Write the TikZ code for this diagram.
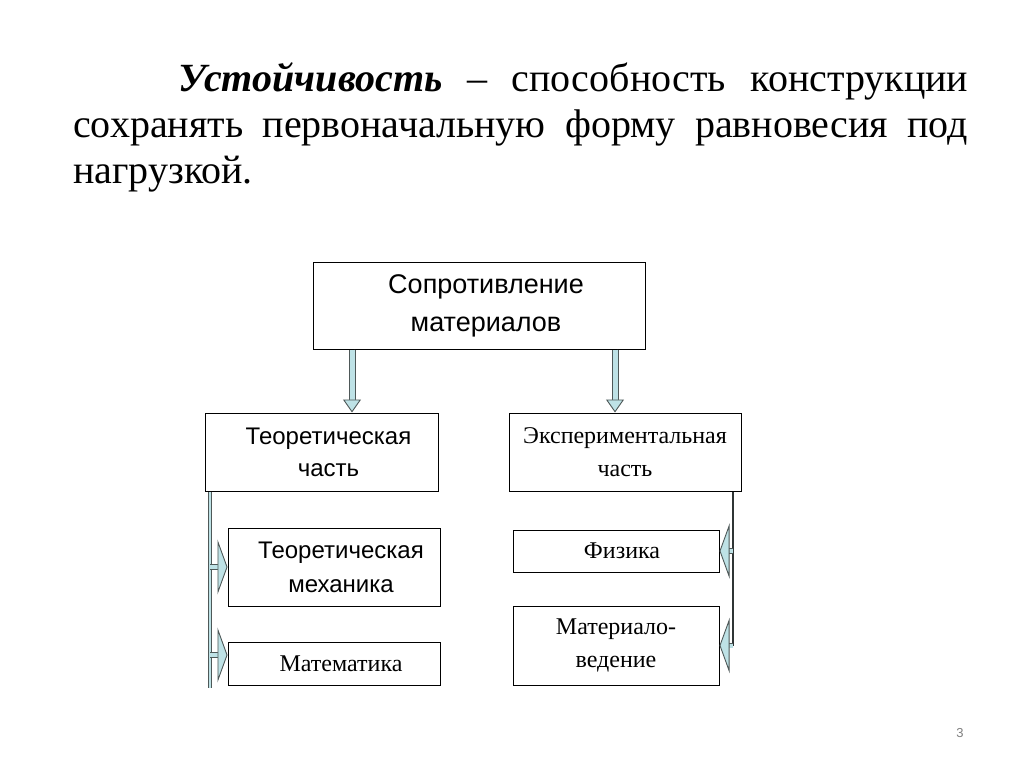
\documentclass[tikz,border=0pt]{standalone}
\usepackage{fontspec}
\setmainfont{Liberation Serif}
\newfontfamily\boxsans{Liberation Sans}
\usetikzlibrary{arrows.meta, positioning}
\definecolor{arrowfill}{RGB}{190,226,230}
\definecolor{arrowline}{RGB}{78,88,88}

\begin{document}
\begin{tikzpicture}[
    x=1pt, y=-1pt,
    sbox/.style={rectangle, draw, line width=1pt, align=center, font=\boxsans\fontsize{24}{32}\selectfont, inner sep=0pt},
    tbox/.style={rectangle, draw, line width=1pt, align=center, font=\fontsize{24}{33}\selectfont, inner sep=0pt},
    downarr/.style={draw=arrowline, double=arrowfill, double distance=5pt, line width=1pt, -{Triangle[length=13pt, width=18pt, fill=arrowfill, line width=0.9pt]}},
    sidebar/.style={draw=arrowline, double=arrowfill, double distance=2.5pt, line width=1pt},
    sidearr/.style={draw=arrowline, double=arrowfill, double distance=4pt, line width=0.9pt, -{Triangle[length=10pt, width=55pt, fill=arrowfill, line width=0.9pt]}},
]
    \useasboundingbox[fill=white] (0,0) rectangle (1024,767);

    % definition text
    \node[anchor=north west, inner sep=0pt, text width=895pt, align=justify, font=\fontsize{40}{46}\selectfont] (title) at (73,62)
        {\hspace*{105pt}\textbf{\textit{Устойчивость}} – способность конструкции\linebreak сохранять первоначальную форму равновесия под\linebreak нагрузкой.};

    % boxes
    \node[sbox, minimum width=332pt, minimum height=87pt, font=\boxsans\fontsize{27}{38}\selectfont] (sopr) at (479,305.5) {\hspace*{14pt}Сопротивление\\\hspace*{14pt}материалов};
    \node[sbox, minimum width=233pt, minimum height=78pt] (theor) at (321.5,452) {\hspace*{14pt}Теоретическая\\\hspace*{14pt}часть};
    \node[tbox, minimum width=232pt, minimum height=78pt] (exper) at (625,452) {Экспериментальная\\часть};
    \node[sbox, minimum width=212pt, minimum height=78pt, font=\boxsans\fontsize{24}{34}\selectfont] (mech) at (334,567) {\hspace*{14pt}Теоретическая\\\hspace*{14pt}механика};
    \node[tbox, minimum width=212pt, minimum height=43pt] (math) at (334,663.5) {\hspace*{14pt}Математика};
    \node[tbox, minimum width=206pt, minimum height=42pt] (phys) at (616,551) {\hspace*{12pt}Физика};
    \node[tbox, minimum width=206pt, minimum height=79pt] (matsci) at (616,645.5) {Материало-\\ведение};

    % arrows
    \coordinate (la) at (352,0);
    \coordinate (ra) at (615,0);
    \draw[downarr] (sopr.south -| la) -- (theor.north -| la);
    \draw[downarr] (sopr.south -| ra) -- (exper.north -| ra);

    \coordinate (lb) at (210,688);
    \draw[sidebar] (theor.south -| lb) -- (lb);
    \draw[sidearr] (mech.west -| lb) -- (mech.west);
    \draw[sidearr] ([yshift=8.5pt]math.west -| lb) -- ([yshift=8.5pt]math.west);

    \coordinate (rb) at (733,0);
    \draw[arrowline!60!black, line width=2pt] (exper.south -| rb) -- (matsci.east -| rb);
    \draw[sidearr] (phys.east -| rb) -- (phys.east);
    \draw[sidearr] (matsci.east -| rb) -- (matsci.east);

    \node[font=\boxsans\fontsize{13}{13}\selectfont, text=gray] (pnum) at (960,733) {3};
\end{tikzpicture}
\end{document}
